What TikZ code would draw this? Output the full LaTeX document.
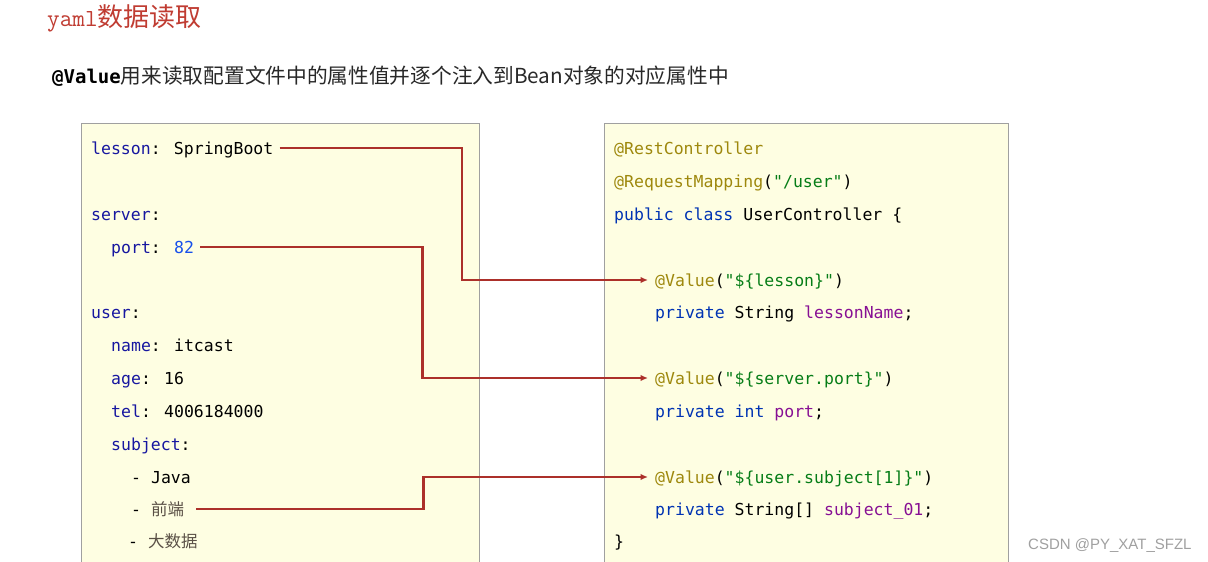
\documentclass[tikz,border=0pt]{standalone}
\usepackage{fontspec}
\setmainfont{Liberation Sans}
\newfontfamily\codefont{DejaVu Sans Mono}
\newfontfamily\cjk{Noto Sans CJK SC}
\usetikzlibrary{arrows.meta}
\definecolor{titlered}{RGB}{192,60,50}
\definecolor{ykey}{RGB}{23,23,160}
\definecolor{ynum}{RGB}{23,80,235}
\definecolor{cjkgray}{RGB}{90,80,70}
\definecolor{anno}{RGB}{158,136,13}
\definecolor{kw}{RGB}{0,51,179}
\definecolor{str}{RGB}{6,125,23}
\definecolor{fld}{RGB}{135,16,148}
\definecolor{boxfill}{HTML}{FEFEE2}
\definecolor{boxline}{HTML}{A0A0A0}
\definecolor{arrowred}{RGB}{172,48,42}
\definecolor{subgray}{RGB}{40,40,40}
\begin{document}
\begin{tikzpicture}[x=1pt,y=-1pt,
  code/.style={anchor=base west,inner sep=0pt,font=\codefont\fontsize{16.5}{16.5}\selectfont},
  codebox/.style={draw=boxline,fill=boxfill,line width=1pt},
  conn/.style={draw=arrowred,line width=2.5pt,-{Latex[length=7.5pt,width=6.5pt]}}]
\useasboundingbox (0,0) rectangle (1208,562);
\clip (0,0) rectangle (1208,562);
\fill[white] (0,0) rectangle (1208,562);

% title
\node[anchor=base west,inner sep=0pt,text=titlered] (title) at (47,27)
  {\scalebox{1.42}{\ttfamily\fontsize{17.28}{17.28}\selectfont yaml}{\cjk\fontsize{26}{26}\selectfont 数据读取}};
% subtitle
\node[anchor=base west,inner sep=0pt,text=subgray] (subtitle) at (52,83)
  {{\codefont\bfseries\fontsize{19}{19}\selectfont\textcolor{black}{@Value}}{\cjk\fontsize{20.7}{20.7}\selectfont 用来读取配置文件中的属性值并逐个注入到Bean对象的对应属性中}};

% boxes
\draw[codebox] (81,123.5) rectangle (479.5,600);
\draw[codebox] (604.5,123.5) rectangle (1008.5,600);

% yaml
\node[code] (lesson) at (91,154) {\textcolor{ykey}{lesson}: SpringBoot};
\node[code] (server) at (91,220) {\textcolor{ykey}{server}:};
\node[code] (port) at (111,253) {\textcolor{ykey}{port}: \textcolor{ynum}{82}};
\node[code] (user) at (91,318) {\textcolor{ykey}{user}:};
\node[code] (name) at (111,351) {\textcolor{ykey}{name}: itcast};
\node[code] (age) at (111,384) {\textcolor{ykey}{age}: 16};
\node[code] (tel) at (111,417) {\textcolor{ykey}{tel}: 4006184000};
\node[code] (subject) at (111,450) {\textcolor{ykey}{subject}:};
\node[code] (java) at (131,483) {- Java};
\node[code] (qd) at (131,515) {- \textcolor{cjkgray}{\cjk 前端}};
\node[code] (dsj) at (128,547) {- \textcolor{cjkgray}{\cjk 大数据}};

% java
\node[code] (rc) at (614,154) {\textcolor{anno}{@RestController}};
\node[code] (rm) at (614,187) {\textcolor{anno}{@RequestMapping}(\textcolor{str}{"/user"})};
\node[code] (cls) at (614,220) {\textcolor{kw}{public class} UserController \{};
\node[code] (val1) at (655,286) {\textcolor{anno}{@Value}(\textcolor{str}{"\$\{lesson\}"})};
\node[code] (f1) at (655,318) {\textcolor{kw}{private} String \textcolor{fld}{lessonName};};
\node[code] (val2) at (655,384) {\textcolor{anno}{@Value}(\textcolor{str}{"\$\{server.port\}"})};
\node[code] (f2) at (655,417) {\textcolor{kw}{private int} \textcolor{fld}{port};};
\node[code] (val3) at (655,483) {\textcolor{anno}{@Value}(\textcolor{str}{"\$\{user.subject[1]\}"})};
\node[code] (f3) at (655,515) {\textcolor{kw}{private} String[] \textcolor{fld}{subject\_01};};
\node[code] (close) at (614,547) {\}};

% connectors
\coordinate (a1) at ([xshift=6pt,yshift=6pt]lesson.base east);
\coordinate (b1) at ([xshift=-7pt,yshift=6pt]val1.base west);
\coordinate (k1) at (462,0);
\draw[conn] (a1) -- (a1 -| k1) -- (k1 |- b1) -- (b1);

\coordinate (a2) at ([xshift=6pt,yshift=6pt]port.base east);
\coordinate (b2) at ([xshift=-7pt,yshift=6pt]val2.base west);
\coordinate (k2) at (422.5,0);
\draw[conn] (a2) -- (a2 -| k2) -- (k2 |- b2) -- (b2);

\coordinate (a3) at ([xshift=12pt,yshift=6pt]qd.base east);
\coordinate (b3) at ([xshift=-7pt,yshift=6pt]val3.base west);
\coordinate (k3) at (423.5,0);
\draw[conn] (a3) -- (a3 -| k3) -- (k3 |- b3) -- (b3);

% watermark
\node[anchor=base west,inner sep=0pt,text={rgb,255:red,160;green,160;blue,160},font=\fontsize{15}{15}\selectfont] (wm) at (1028,549) {CSDN @PY\_XAT\_SFZL};
\end{tikzpicture}
\end{document}
